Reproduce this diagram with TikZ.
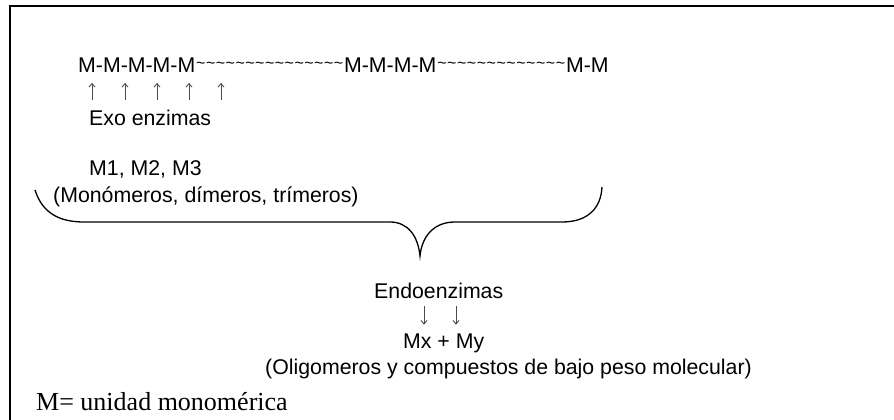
\documentclass[tikz,border=0pt]{standalone}
\usepackage{fontspec}
\setmainfont{Liberation Sans}
\newfontfamily\timesf{Liberation Serif}
\usetikzlibrary{calc,arrows.meta}
% tildes spread over a fixed width
\newcommand\tildas[2]{\hbox to #2{\hss\foreach \i in {1,...,#1}{\raisebox{4pt}{\textasciitilde}\hss}}}

\begin{document}
\begin{tikzpicture}[x=1pt,y=-1pt,
  txt/.style={inner sep=0pt,anchor=base west,font=\fontsize{21.3}{25}\selectfont},
  tld/.style={inner sep=0pt,anchor=base west,font=\fontsize{16}{16}\selectfont},
  flecha/.style={-{Straight Barb[length=3.5pt,width=6pt]},line width=0.9pt,black!70}]
\useasboundingbox (0,0) rectangle (894,420);
\draw[line width=2pt] (9.5,6.5) rectangle (910,440);

% polymer chain
\node[txt] (m1) at (78,72.7) {M-M-M-M-M};
\node[tld] (t1) at (m1.base east) {\tildas{15}{148pt}};
\node[txt] (m2) at (t1.base east) {M-M-M-M};
\node[tld] (t2) at (m2.base east) {\tildas{13}{129pt}};
\node[txt] (m3) at (t2.base east) {M-M};

\node[txt] (exo) at (89,125) {Exo enzimas};
\foreach \x in {92,125,157,189,221}
  \draw[flecha,shorten <=9.5pt,shorten >=10pt] (\x,0 |- exo.north) -- (\x,0 |- m1.south);

\node[txt] (mtres) at (89,175) {M1, M2, M3};
\node[txt] (mono) at (53,202) {(Monómeros, dímeros, trímeros)};

% brace
\coordinate (bl) at (35,190);
\coordinate (punta) at (420,256);
\coordinate (br) at (602,187);
\draw[line width=1.3pt] (bl) .. controls (42,212) and (58,222) .. (84,222) -- (390,222)
  .. controls (408,222) and (418,236) .. (punta)
  .. controls (422,236) and (434,222) .. (455,222) -- (562,222)
  .. controls (588,222) and (601,208) .. (br);

\node[txt] (endo) at (374,298) {Endoenzimas};
\node[txt] (mxy) at (403,348) {Mx + My};
\foreach \x in {424,456}
  \draw[flecha,shorten <=8pt,shorten >=8.5pt] (\x,0 |- endo.south) -- (\x,0 |- mxy.north);
\node[txt,anchor=base east] (olig) at (752,374) {(Oligomeros y compuestos de bajo peso molecular)};

\node[txt,font=\timesf\fontsize{26}{30}\selectfont] (unidad) at (36,410) {M= unidad monomérica};
\end{tikzpicture}
\end{document}
